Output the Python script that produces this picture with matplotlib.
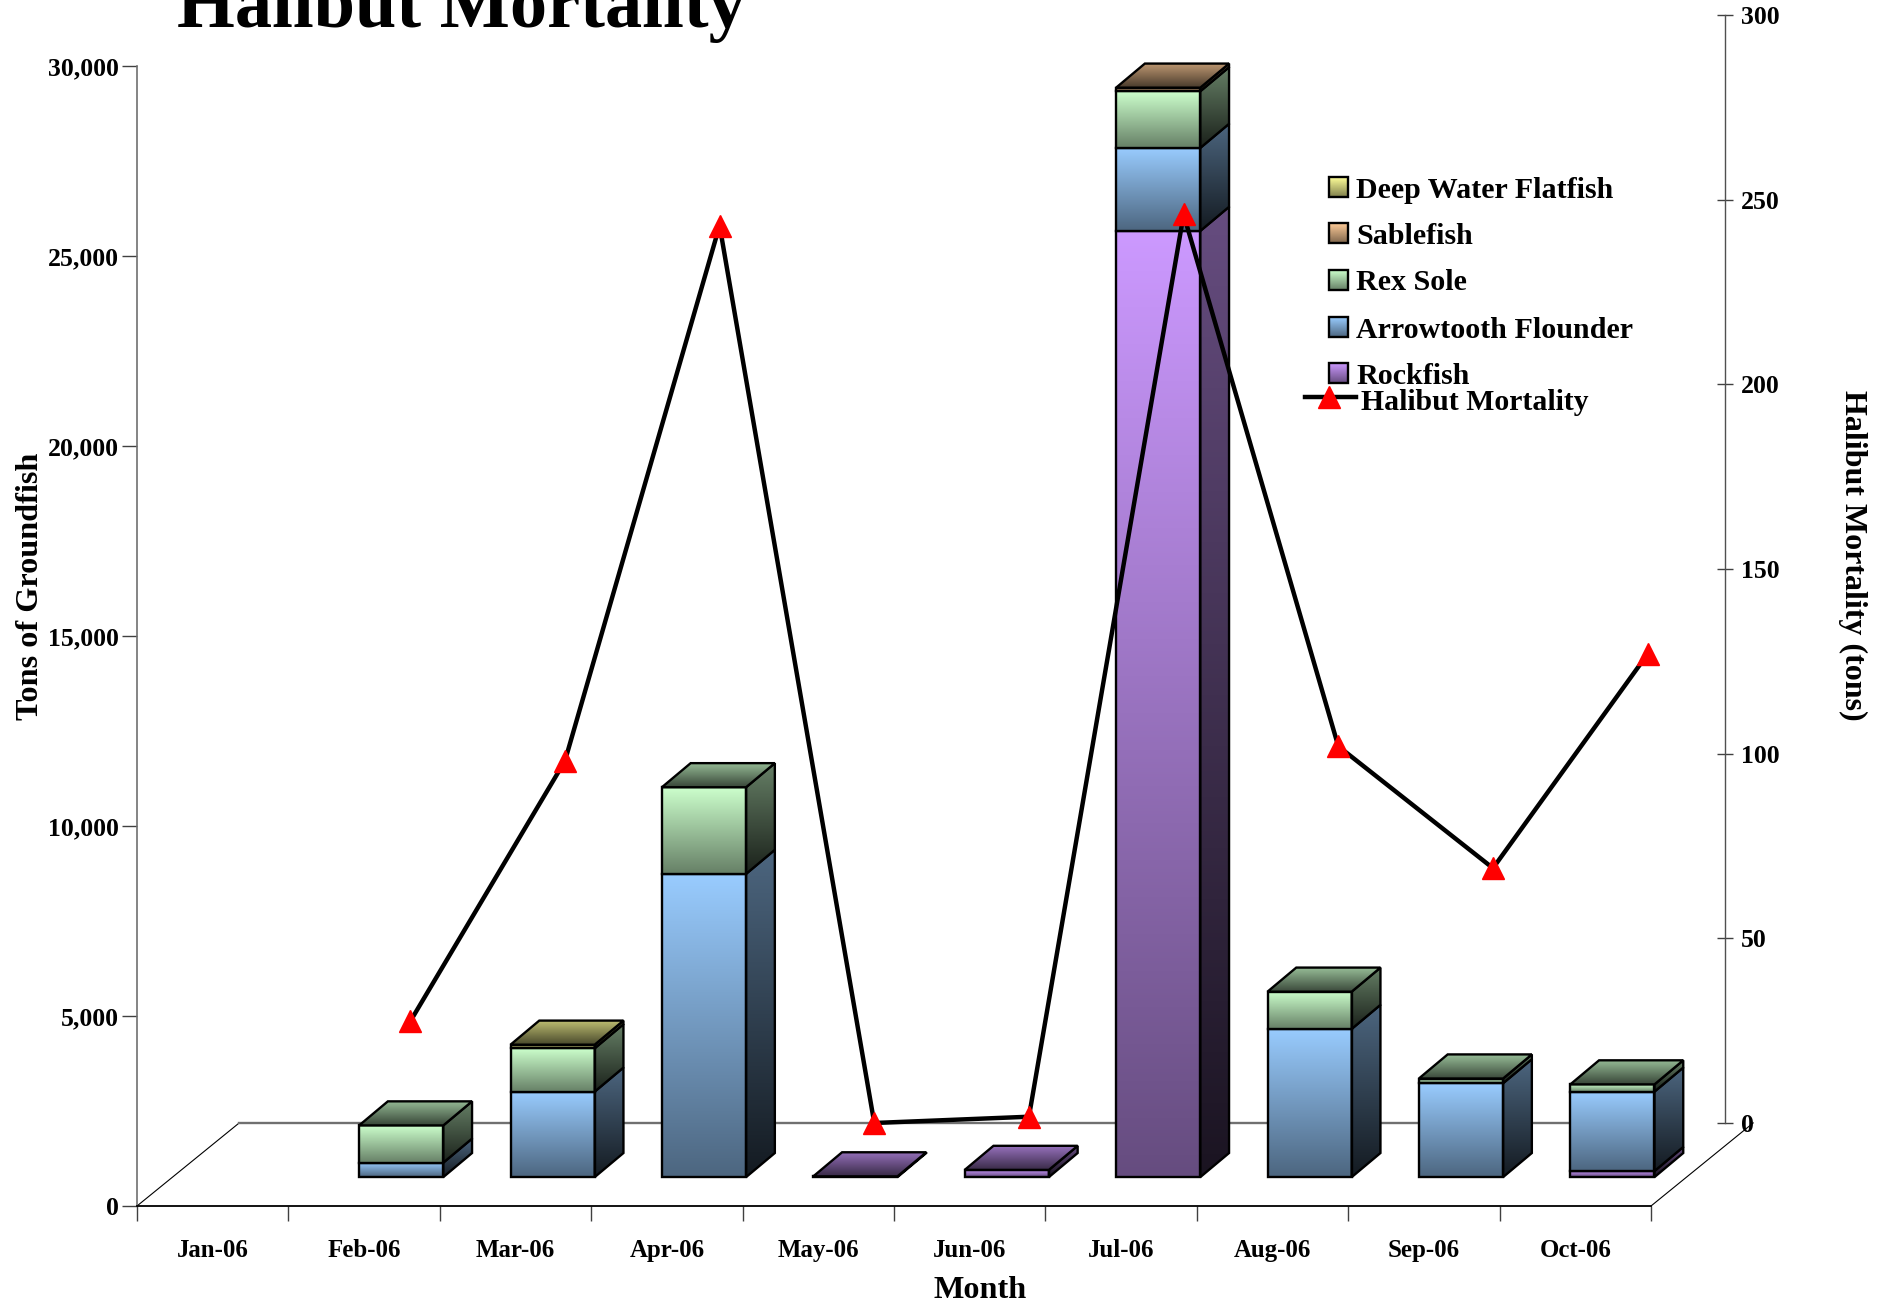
import numpy as np
import matplotlib
matplotlib.use('Agg')
import matplotlib.pyplot as plt
from matplotlib.colors import to_rgb
from matplotlib.patches import Polygon

plt.rcParams['font.family'] = 'Liberation Serif'
plt.rcParams['font.weight'] = 'bold'

# data
months = ['Jan-06', 'Feb-06', 'Mar-06', 'Apr-06', 'May-06', 'Jun-06', 'Jul-06', 'Aug-06', 'Sep-06', 'Oct-06']
rockfish = [0, 0, 0, 0, 20, 190, 24900, 0, 0, 160]
arrowtooth = [0, 380, 2250, 7980, 0, 0, 2185, 3900, 2470, 2090]
rex_sole = [0, 980, 1140, 2280, 0, 0, 1490, 980, 125, 190]
sablefish = [0, 0, 0, 0, 0, 0, 95, 0, 0, 0]
deep_water = [0, 0, 95, 0, 0, 0, 0, 0, 0, 0]
halibut = [np.nan, 27.5, 98, 243, 0, 1.7, 246, 102, 69, 127]

series = [rockfish, arrowtooth, rex_sole, sablefish, deep_water]
names = ['Rockfish', 'Arrowtooth Flounder', 'Rex Sole', 'Sablefish', 'Deep Water Flatfish']
colors = ['#CC99FF', '#99CCFF', '#CCFFCC', '#FFCC99', '#FFFF99']

W, H = 1886, 1303

# fake 3d settings (category units / value units)
BAR_W = 0.556
DEPTH_X, DEPTH_Y = 0.19, 634
FLOOR_X, FLOOR_Y = 0.245, 760
WALL_X, WALL_Y = 0.675, 2186


def axes_px(left, right, top, bottom):
    return [left / W, 1 - bottom / H, (right - left) / W, (bottom - top) / H]


def shade(col, k):
    return np.array(to_rgb(col)) * k


def gradient_poly(ax, verts, c_top, c_bottom, z):
    poly = Polygon(verts, closed=True, fc='none', ec='black', lw=1.7, zorder=z + 0.1, clip_on=False)
    ax.add_patch(poly)
    xs = [v[0] for v in verts]
    ys = [v[1] for v in verts]
    t = np.linspace(0, 1, 128)[:, None, None]
    img = c_top * (1 - t) + c_bottom * t
    im = ax.imshow(img, extent=[min(xs), max(xs), min(ys), max(ys)], origin='upper',
                   aspect='auto', zorder=z, interpolation='bilinear')
    im.set_clip_box(fig.bbox)
    im.set_clip_path(poly)


fig = plt.figure(figsize=(W / 100, H / 100), dpi=100)

# main axes = the front edge of the floor
ax = fig.add_axes(axes_px(137, 1651, 66, 1206))
ax.set_xlim(0, 10)
ax.set_ylim(0, 30000)
ax.patch.set_visible(False)

# floor outline and back wall line
ax.plot([0, WALL_X], [0, WALL_Y], color='black', lw=0.8, clip_on=False, zorder=1)
ax.plot([10, 10 + WALL_X], [0, WALL_Y], color='black', lw=0.8, clip_on=False, zorder=1)
ax.plot([WALL_X, 9.64], [WALL_Y, WALL_Y], color='#707070', lw=1.7, clip_on=False, zorder=1)

# bars
for i in range(len(months)):
    x0 = i + 0.5 + FLOOR_X - BAR_W / 2
    x1 = x0 + BAR_W
    base = FLOOR_Y
    z = 3
    top_col = None
    for vals, col in zip(series, colors):
        v = vals[i]
        if v == 0:
            continue
        gradient_poly(ax, [(x0, base), (x1, base), (x1, base + v), (x0, base + v)],
                      shade(col, 1.0), shade(col, 0.5), z)
        gradient_poly(ax, [(x1, base), (x1 + DEPTH_X, base + DEPTH_Y),
                           (x1 + DEPTH_X, base + v + DEPTH_Y), (x1, base + v)],
                      shade(col, 0.5), shade(col, 0.13), z)
        base += v
        top_col = col
        z += 1
    if top_col is not None:
        gradient_poly(ax, [(x0, base), (x1, base), (x1 + DEPTH_X, base + DEPTH_Y),
                           (x0 + DEPTH_X, base + DEPTH_Y)],
                      shade(top_col, 0.75), shade(top_col, 0.28), z)

# left and bottom axes
ax.spines['top'].set_visible(False)
ax.spines['right'].set_visible(False)
ax.spines['left'].set_color('#707070')
ax.spines['left'].set_linewidth(1.2)
ax.spines['bottom'].set_color('black')
ax.spines['bottom'].set_linewidth(1.3)
ax.set_yticks(range(0, 30001, 5000))
ax.set_yticklabels([f'{v:,}' for v in range(0, 30001, 5000)], fontsize=18.5)
ax.tick_params(axis='y', length=10.8, width=1, color='#404040', pad=2.5)
ax.set_xticks(range(0, 11))
ax.set_xticklabels([])
ax.tick_params(axis='x', which='major', length=10.8, width=1, color='#404040')
ax.set_xticks(np.arange(len(months)) + 0.5, minor=True)
ax.set_xticklabels(months, minor=True, fontsize=17.9)
ax.tick_params(axis='x', which='minor', length=0, pad=23.5)

# halibut mortality on its own axes
ax2 = fig.add_axes(axes_px(239, 1725, 15, 1123))
ax2.patch.set_visible(False)
ax2.set_xlim(-0.107, 9.5)
ax2.set_ylim(0, 300)
ax2.plot(np.arange(len(months)), halibut, color='black', lw=3.2, marker='^', ms=16,
         mfc='red', mec='red', clip_on=False, zorder=10)
for s in ['top', 'left', 'bottom']:
    ax2.spines[s].set_visible(False)
ax2.spines['right'].set_color('#505050')
ax2.spines['right'].set_linewidth(1)
ax2.set_xticks([])
ax2.yaxis.tick_right()
ax2.set_yticks(range(0, 301, 50))
ax2.tick_params(axis='y', direction='inout', length=11.5, width=1, color='#404040', pad=6, labelsize=18.5)

# legend, drawn by hand on a pixel overlay
lg = fig.add_axes([0, 0, 1, 1])
lg.set_xlim(0, W)
lg.set_ylim(H, 0)
lg.axis('off')
rows = [('Deep Water Flatfish', '#FFFF99', 187), ('Sablefish', '#FFCC99', 233), ('Rex Sole', '#CCFFCC', 280),
        ('Arrowtooth Flounder', '#99CCFF', 327), ('Rockfish', '#CC99FF', 373)]
for name, col, y in rows:
    gradient_poly(lg, [(1329, y + 10), (1348, y + 10), (1348, y - 10), (1329, y - 10)],
                  shade(col, 0.5), shade(col, 1.0), 5)
    lg.text(1356, y + 3, name, fontsize=21.6, va='center', ha='left')
lg.plot([1305, 1356], [397, 397], color='black', lw=3.2)
lg.plot([1329], [397], marker='^', ms=16, color='red')
lg.text(1361, 402, 'Halibut Mortality', fontsize=21.4, va='center', ha='left')

# titles
fig.text(177 / W, 1 - 27 / H, 'Halibut Mortality', fontsize=53.6, ha='left', va='baseline')
fig.text(31 / W, 1 - 586 / H, 'Tons of Groundfish', fontsize=23.2, rotation=90, ha='center', va='center')
fig.text(1853 / W, 1 - 555 / H, 'Halibut Mortality (tons)', fontsize=23, rotation=270, ha='center', va='center')
fig.text(980 / W, 1 - 1290 / H, 'Month', fontsize=23.2, ha='center', va='center')

fig.savefig('out.png', dpi=100)
